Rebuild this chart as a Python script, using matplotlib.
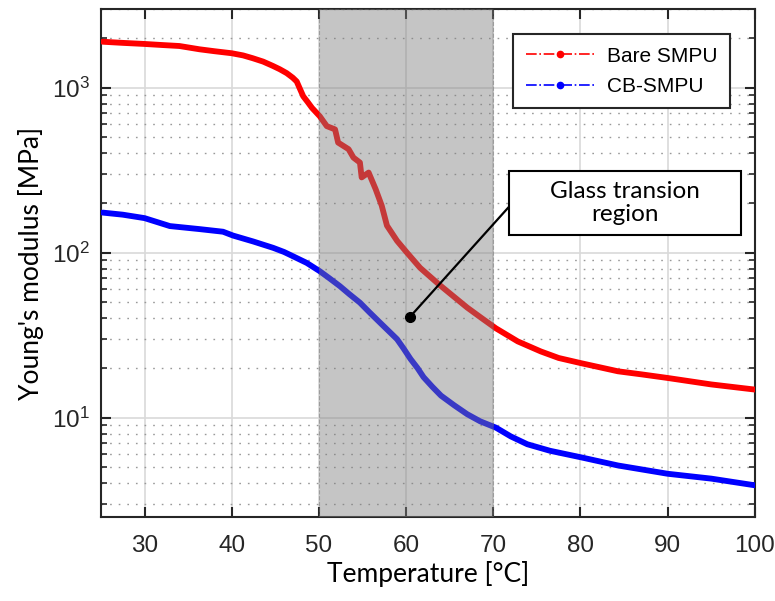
import matplotlib
matplotlib.use("Agg")
import matplotlib.pyplot as plt
from matplotlib.lines import Line2D
from matplotlib.patches import Rectangle

# Bare SMPU
bare_T = [25.2, 27.5, 30.0, 32.0, 34.0, 36.3, 38.0, 40.0, 41.3, 42.4, 43.6, 44.7,
          45.5, 46.3, 47.0, 47.45, 47.8, 48.2, 48.7, 49.2, 50.1,
          50.9, 51.85, 52.2, 53.4, 53.96, 54.7, 54.9, 55.7, 56.5, 57.2, 57.8, 58.96,
          60.1, 61.6, 63.8, 65.5, 67.0, 68.7, 70.3, 72.8, 75.45, 77.5, 80.05, 84.3,
          87.0, 90.0, 95.0, 100.0]
bare_E = [1900, 1870, 1842, 1815, 1790, 1710, 1665, 1618, 1570, 1510, 1440, 1357,
          1295, 1226, 1150, 1091, 990, 887, 820, 755, 671,
          585, 559, 465, 424, 377, 352, 286, 306, 243, 193, 146, 118,
          100, 81, 64, 54, 46.5, 40, 34.8, 29.0, 25.2, 23.0, 21.4, 19.1,
          18.3, 17.4, 15.9, 14.8]

# CB-SMPU
cb_T = [25.2, 27.5, 30.0, 32.9, 36.3, 39.0, 40.15, 42.45, 44.75, 46.0, 47.05, 48.6,
        50.1, 51.2, 52.4, 53.5, 54.7, 55.8, 57.0, 58.0, 58.96, 59.7, 60.5, 61.3,
        62.0, 63.0, 64.0, 65.5, 67.0, 68.5, 70.3, 72.0, 73.9, 76.5, 80.05, 84.3,
        90.0, 95.0, 100.0]
cb_E = [175, 170, 162, 145, 139, 134, 127, 117, 107, 101, 95, 86.7,
        77.2, 70.0, 62.7, 56.0, 49.8, 43.5, 37.7, 33.5, 29.9, 26.3, 22.7, 20.0,
        17.6, 15.4, 13.6, 11.9, 10.5, 9.5, 8.7, 7.7, 6.9, 6.3, 5.75, 5.13,
        4.57, 4.27, 3.89]

glass_region = (50, 70)
note_point = (60.4, 40.6)
note_text = "Glass transion\nregion"

plt.rcParams["font.family"] = ["Liberation Sans", "DejaVu Sans"]

fig = plt.figure(figsize=(7.75, 6.01), dpi=100)
ax = fig.add_axes([0.1303, 0.1398, 0.8437, 0.8452])

ax.plot(bare_T, bare_E, color=(1, 0, 0), lw=4.2, solid_capstyle="round",
        solid_joinstyle="round", zorder=3)
ax.plot(cb_T, cb_E, color=(0, 0, 1), lw=4.2, solid_capstyle="round",
        solid_joinstyle="round", zorder=3)

# shaded glass transition region (drawn over the curves, like the original)
ax.axvspan(*glass_region, facecolor=(0.5, 0.5, 0.5), alpha=0.45,
           edgecolor=(0.4, 0.4, 0.4), ls="--", lw=0.8, zorder=4)

ax.set_yscale("log")
ax.set_xlim(25, 100)
ax.set_ylim(2.5, 3000)
ax.set_xticks([30, 40, 50, 60, 70, 80, 90, 100])

# grid
ax.grid(True, which="major", color=(0.85, 0.85, 0.85), lw=1.2, zorder=0)
ax.grid(True, which="minor", axis="y", color=(0.6, 0.6, 0.6), lw=1.0,
        ls=(0, (1.2, 5)), zorder=0)
ax.set_axisbelow(True)

ax.tick_params(which="both", direction="in", top=True, right=True,
               colors=(0.15, 0.15, 0.15), labelcolor=(0.15, 0.15, 0.15))
ax.tick_params(which="major", length=7, width=1.5, labelsize=17.5)
ax.tick_params(axis="x", which="major", pad=13)
ax.tick_params(axis="y", which="major", pad=8)
ax.tick_params(which="minor", length=4, width=1.2)
ax.tick_params(axis="x", which="minor", bottom=False, top=False)
for s in ax.spines.values():
    s.set_color((0.15, 0.15, 0.15))
    s.set_linewidth(1.5)

ax.set_xlabel("Temperature [°C]", family=["Lato", "DejaVu Sans"], fontsize=19, labelpad=3)
ax.set_ylabel("Young's modulus [MPa]", family=["Lato", "DejaVu Sans"], fontsize=19, labelpad=6)

# legend
handles = [
    Line2D([], [], color=(1, 0, 0), ls="-.", lw=1.2, marker=".", ms=9),
    Line2D([], [], color=(0, 0, 1), ls="-.", lw=1.2, marker=".", ms=9),
]
leg = ax.legend(handles, ["Bare SMPU", "CB-SMPU"], loc="upper right", fontsize=15,
                handlelength=3.3, handletextpad=0.6, borderaxespad=1.2,
                fancybox=False, framealpha=1, borderpad=0.6, labelspacing=0.55)
leg.get_frame().set_edgecolor((0.15, 0.15, 0.15))
leg.get_frame().set_linewidth(1.5)
leg.set_zorder(10)

# annotation text box with pointer
ax.add_patch(Rectangle((0.6235, 0.555), 0.355, 0.126, transform=ax.transAxes,
                       facecolor="white", edgecolor="black", lw=1.5, zorder=8))
ax.text(0.801, 0.618, note_text, transform=ax.transAxes, ha="center", va="center",
        fontsize=17.5, family=["Lato", "DejaVu Sans"], linespacing=1.1, zorder=9)
ax.annotate("", xy=note_point, xycoords="data", xytext=(0.6235, 0.61),
            textcoords="axes fraction",
            arrowprops=dict(arrowstyle="-", color="black", lw=1.6,
                            shrinkA=0, shrinkB=0), zorder=8)
ax.plot(*note_point, "o", color="black", ms=7, zorder=9)

fig.savefig("out.png", dpi=100)
